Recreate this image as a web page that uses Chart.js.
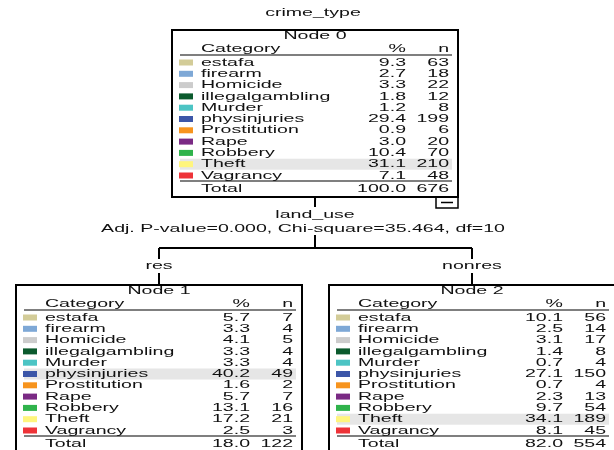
<!DOCTYPE html>
<html>
<head>
<meta charset="utf-8">
<script src="https://cdn.jsdelivr.net/npm/chart.js@4/dist/chart.umd.min.js"></script>
<style>
  body { margin: 0; background: #fff; }
  #wrap { width: 614px; height: 450px; }
</style>
</head>
<body>
<div id="wrap"><canvas id="treeChart" width="614" height="450"></canvas></div>
<script>
// categories of the target variable
const categories = ['estafa', 'firearm', 'Homicide', 'illegalgambling', 'Murder', 'physinjuries',
                    'Prostitution', 'Rape', 'Robbery', 'Theft', 'Vagrancy'];
const catColors = ['#d3cc98', '#7ea8d6', '#cccccc', '#0b5a2d', '#4cc4c4', '#3c56a8',
                   '#f7941e', '#7a2a84', '#2fb34b', '#fff57d', '#ee3338'];

// node 0 (root)
const node0Pct = ['9.3', '2.7', '3.3', '1.8', '1.2', '29.4', '0.9', '3.0', '10.4', '31.1', '7.1'];
const node0N   = [63, 18, 22, 12, 8, 199, 6, 20, 70, 210, 48];
// node 1 (res)
const node1Pct = ['5.7', '3.3', '4.1', '3.3', '3.3', '40.2', '1.6', '5.7', '13.1', '17.2', '2.5'];
const node1N   = [7, 4, 5, 4, 4, 49, 2, 7, 16, 21, 3];
// node 2 (nonres)
const node2Pct = ['10.1', '2.5', '3.1', '1.4', '0.7', '27.1', '0.7', '2.3', '9.7', '34.1', '8.1'];
const node2N   = [56, 14, 17, 8, 4, 150, 4, 13, 54, 189, 45];

const nodeTotals = [['100.0', 676], ['18.0', 122], ['82.0', 554]];
const splitVar = 'land_use';
const splitStats = 'Adj. P-value=0.000, Chi-square=35.464, df=10';
const branchLabels = ['res', 'nonres'];

// layout (pixel units on the hidden scales)
const nodes = [
  { name: 'Node 0', left: 172, top: 30, pct: node0Pct, n: node0N, total: nodeTotals[0] },
  { name: 'Node 1', left: 16, top: 285, pct: node1Pct, n: node1N, total: nodeTotals[1] },
  { name: 'Node 2', left: 329, top: 285, pct: node2Pct, n: node2N, total: nodeTotals[2] }
];
const BOX_W = 286;
const ROW_H = 11.3;
const SX = 1.7; // text is drawn horizontally stretched like the reference
const FONT = '11.5px "Liberation Sans", Arial, sans-serif';

function txt(ctx, s, x, y, align) {
  ctx.save();
  ctx.translate(x, y);
  ctx.scale(SX, 1);
  ctx.textAlign = align || 'left';
  ctx.textBaseline = 'middle';
  ctx.fillText(s, 0, 0);
  ctx.restore();
}

function line(ctx, x1, y1, x2, y2) {
  ctx.beginPath();
  ctx.moveTo(x1, y1);
  ctx.lineTo(x2, y2);
  ctx.stroke();
}

const treePlugin = {
  id: 'tree',
  afterDraw(chart) {
    const ctx = chart.ctx;
    const X = v => chart.scales.x.getPixelForValue(v);
    const Y = v => chart.scales.y.getPixelForValue(v);
    ctx.save();
    ctx.font = FONT;
    ctx.fillStyle = '#111';
    txt(ctx, 'crime_type', X(313), Y(13), 'center');

    nodes.forEach(nd => {
      const L = nd.left, T = nd.top;
      const bottom = T + 167;
      // highlight the modal category
      let best = 0;
      nd.n.forEach((v, i) => { if (v > nd.n[best]) best = i; });
      ctx.fillStyle = '#e6e6e6';
      const hy = T + 32.5 + best * ROW_H;
      ctx.fillRect(X(L + 8), Y(hy - 5.5), X(L + 280) - X(L + 8), Y(hy + 5.5) - Y(hy - 5.5));

      ctx.fillStyle = '#111';
      txt(ctx, nd.name, X(L + BOX_W / 2), Y(T + 6), 'center');
      txt(ctx, 'Category', X(L + 29), Y(T + 19));
      txt(ctx, '%', X(L + 234), Y(T + 19), 'right');
      txt(ctx, 'n', X(L + 277), Y(T + 19), 'right');

      ctx.strokeStyle = '#555';
      ctx.lineWidth = 1.6;
      line(ctx, X(L + 8), Y(T + 25), X(L + 280), Y(T + 25));
      line(ctx, X(L + 8), Y(T + 151), X(L + 280), Y(T + 151));

      categories.forEach((c, i) => {
        const y = T + 32.5 + i * ROW_H;
        ctx.fillStyle = catColors[i];
        ctx.fillRect(X(L + 7), Y(y - 3), X(L + 21) - X(L + 7), Y(y + 3) - Y(y - 3));
        ctx.fillStyle = '#111';
        txt(ctx, c, X(L + 29), Y(y));
        txt(ctx, nd.pct[i], X(L + 234), Y(y), 'right');
        txt(ctx, String(nd.n[i]), X(L + 277), Y(y), 'right');
      });
      txt(ctx, 'Total', X(L + 29), Y(T + 159));
      txt(ctx, nd.total[0], X(L + 234), Y(T + 159), 'right');
      txt(ctx, String(nd.total[1]), X(L + 277), Y(T + 159), 'right');

      ctx.strokeStyle = '#000';
      ctx.lineWidth = 2;
      ctx.strokeRect(X(L), Y(T), X(L + BOX_W) - X(L), Y(bottom) - Y(T));
    });

    // collapse box under the root node
    const r = nodes[0];
    const rb = r.top + 167;
    ctx.lineWidth = 1.5;
    ctx.strokeRect(X(r.left + BOX_W - 22), Y(rb), X(r.left + BOX_W) - X(r.left + BOX_W - 22), Y(rb + 11) - Y(rb));
    line(ctx, X(r.left + BOX_W - 17), Y(rb + 5.5), X(r.left + BOX_W - 5), Y(rb + 5.5));

    // connectors
    const cx0 = r.left + BOX_W / 2;
    const cx1 = nodes[1].left + BOX_W / 2;
    const cx2 = nodes[2].left + BOX_W / 2;
    ctx.lineWidth = 2;
    line(ctx, X(cx0), Y(rb), X(cx0), Y(207));
    ctx.fillStyle = '#111';
    txt(ctx, splitVar, X(cx0), Y(215), 'center');
    txt(ctx, splitStats, X(cx0 - 12), Y(229), 'center');
    line(ctx, X(cx0), Y(235), X(cx0), Y(248));
    line(ctx, X(cx1), Y(248), X(cx2), Y(248));
    line(ctx, X(cx1), Y(248), X(cx1), Y(259));
    line(ctx, X(cx2), Y(248), X(cx2), Y(259));
    txt(ctx, branchLabels[0], X(cx1), Y(266), 'center');
    txt(ctx, branchLabels[1], X(cx2), Y(266), 'center');
    line(ctx, X(cx1), Y(273), X(cx1), Y(285));
    line(ctx, X(cx2), Y(273), X(cx2), Y(285));
    ctx.restore();
  }
};

new Chart(document.getElementById('treeChart').getContext('2d'), {
  type: 'scatter',
  data: { datasets: [{ data: [], pointRadius: 0 }] },
  options: {
    responsive: false,
    animation: false,
    devicePixelRatio: 1,
    layout: { padding: 0 },
    plugins: { legend: { display: false }, tooltip: { enabled: false } },
    scales: {
      x: { type: 'linear', min: 0, max: 614, display: false },
      y: { type: 'linear', min: 0, max: 450, reverse: true, display: false }
    }
  },
  plugins: [treePlugin]
});
</script>
</body>
</html>
